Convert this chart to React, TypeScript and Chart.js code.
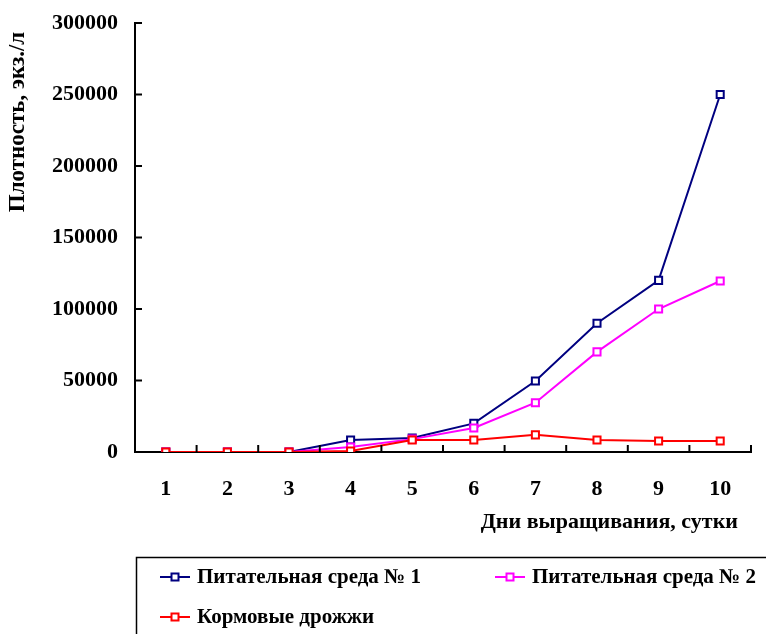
import React, { useEffect, useRef } from "react";
import { Chart, registerables } from "chart.js";

Chart.register(...registerables);

const days = ["1", "2", "3", "4", "5", "6", "7", "8", "9", "10"];
const medium1 = [0, 0, 0, 8400, 9800, 20000, 49600, 90000, 120000, 250000];
const medium2 = [0, 0, 0, 3500, 9000, 16800, 34500, 70000, 100000, 119600];
const yeast = [0, 0, 0, 700, 8400, 8400, 12000, 8400, 7700, 7700];
const seriesNames = ["Питательная среда № 1", "Питательная среда № 2", "Кормовые дрожжи"];
const seriesColors = ["#000080", "#FF00FF", "#FF0000"];
const xTitle = "Дни выращивания, сутки";
const yTitle = "Плотность, экз./л";

const FONT = "'Liberation Serif', 'Times New Roman', serif";

const decorPlugin = {
  id: "decor",
  afterDraw(chart: any) {
    const ctx = chart.ctx;
    const ys = chart.scales.y;
    const area = chart.chartArea;
    ctx.save();
    ctx.strokeStyle = "#000";
    ctx.lineWidth = 2;
    ys.ticks.forEach((_: any, i: number) => {
      const y = ys.getPixelForTick(i);
      ctx.beginPath();
      ctx.moveTo(area.left, y);
      ctx.lineTo(area.left + 7, y);
      ctx.stroke();
    });
    const n = days.length;
    const step = (area.right - area.left) / n;
    for (let k = 1; k <= n; k++) {
      const x = area.left + step * k;
      ctx.beginPath();
      ctx.moveTo(x, area.bottom);
      ctx.lineTo(x, area.bottom - 7);
      ctx.stroke();
    }
    ctx.fillStyle = "#000";
    ctx.font = `bold 22px ${FONT}`;
    ctx.textAlign = "right";
    ctx.textBaseline = "middle";
    ctx.fillText(xTitle, 738, 522);
    ctx.save();
    ctx.font = `bold 23px ${FONT}`;
    ctx.translate(18, 122);
    ctx.rotate(-Math.PI / 2);
    ctx.textAlign = "center";
    ctx.fillText(yTitle, 0, 0);
    ctx.restore();
    ctx.lineWidth = 1.5;
    ctx.strokeRect(136.5, 557.5, 800, 200);
    ctx.font = `bold 21px ${FONT}`;
    const items = [
      { x: 160, y: 577 },
      { x: 495, y: 577 },
      { x: 160, y: 617 },
    ];
    items.forEach((it, i) => {
      ctx.strokeStyle = seriesColors[i];
      ctx.lineWidth = 2;
      ctx.beginPath();
      ctx.moveTo(it.x, it.y);
      ctx.lineTo(it.x + 30, it.y);
      ctx.stroke();
      ctx.fillStyle = "#fff";
      ctx.fillRect(it.x + 11.5, it.y - 3.5, 7, 7);
      ctx.strokeRect(it.x + 11.5, it.y - 3.5, 7, 7);
      ctx.fillStyle = "#000";
      ctx.textAlign = "left";
      ctx.fillText(seriesNames[i], it.x + 37, it.y + 1);
    });
    ctx.restore();
  },
};

export default function App() {
  const ref = useRef<HTMLCanvasElement | null>(null);
  useEffect(() => {
    if (!ref.current) return;
    const mk = (data: number[], i: number, order: number) => ({
      label: seriesNames[i],
      data,
      borderColor: seriesColors[i],
      backgroundColor: "#fff",
      borderWidth: 2,
      pointStyle: "rect" as const,
      pointRadius: 5,
      pointBorderWidth: 2,
      pointBorderColor: seriesColors[i],
      pointBackgroundColor: "#fff",
      tension: 0,
      order,
    });
    const chart = new Chart(ref.current, {
      type: "line",
      data: {
        labels: days,
        datasets: [mk(medium1, 0, 3), mk(medium2, 1, 2), mk(yeast, 2, 1)],
      },
      plugins: [decorPlugin],
      options: {
        animation: false,
        responsive: false,
        layout: { padding: { top: 23, right: 15, left: 0, bottom: 132 } },
        plugins: { legend: { display: false }, tooltip: { enabled: false } },
        scales: {
          x: {
            offset: true,
            grid: { display: false, drawTicks: false },
            border: { color: "#000", width: 2 },
            ticks: {
              color: "#000",
              font: { family: FONT, size: 22, weight: "bold" },
              padding: 24,
            },
            afterFit: (s: any) => {
              s.height = 50;
              s.paddingLeft = 0;
              s.paddingRight = 0;
            },
          },
          y: {
            min: 0,
            max: 300000,
            grid: { display: false, drawTicks: false },
            border: { color: "#000", width: 2 },
            ticks: {
              stepSize: 50000,
              color: "#000",
              font: { family: FONT, size: 22, weight: "bold" },
              padding: 17,
              callback: (v: any) => String(v),
            },
            afterFit: (s: any) => {
              s.width = 135;
              s.paddingTop = 0;
              s.paddingBottom = 0;
            },
          },
        },
      },
    });
    return () => chart.destroy();
  }, []);
  return (
    <div style={{ position: "fixed", left: 0, top: 0, width: 766, height: 634, background: "#fff" }}>
      <canvas ref={ref} width={766} height={634} style={{ width: 766, height: 634 }} />
    </div>
  );
}
